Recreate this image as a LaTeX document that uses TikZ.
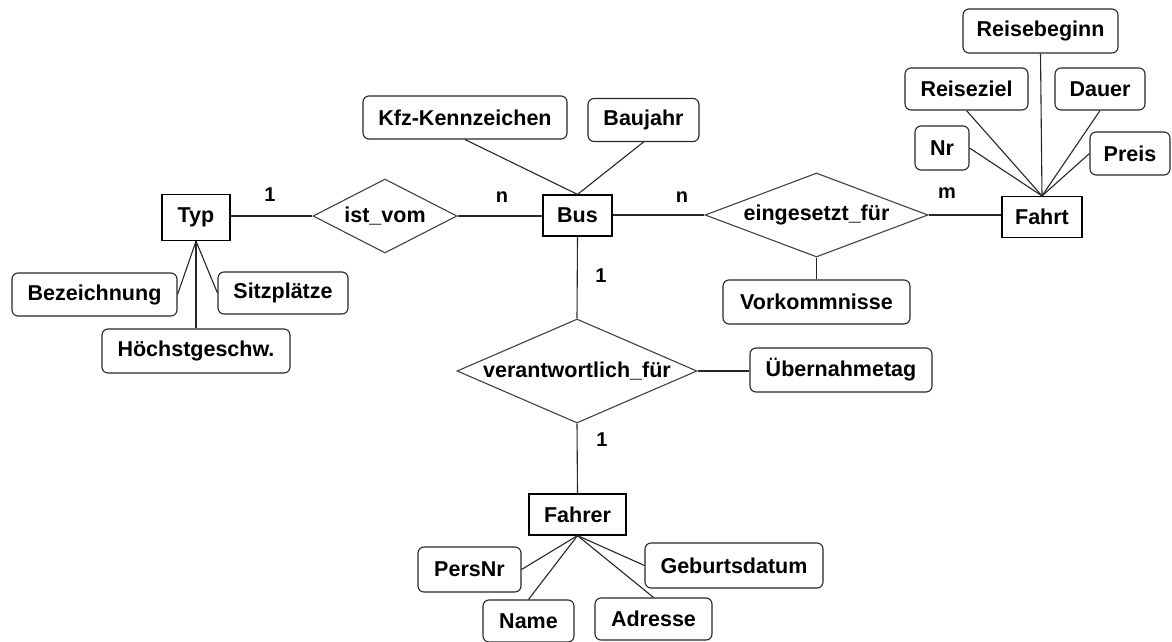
\documentclass[tikz,border=0pt]{standalone}
\usepackage{fontspec}
\setmainfont{Liberation Sans}
\usetikzlibrary{shapes.geometric}
\begin{document}
\begin{tikzpicture}[x=1pt,y=-1pt,
  every node/.style={font=\bfseries\fontsize{21.5}{24}\selectfont, inner sep=0pt},
  entity/.style={draw=black, line width=1.2pt, rectangle, minimum height=41pt},
  attr/.style={draw=black!85, line width=1.1pt, rectangle, rounded corners=6pt, minimum height=43pt},
  rel/.style={draw=black!75, line width=1.1pt, diamond, aspect=2},
  card/.style={font=\bfseries\fontsize{20}{24}\selectfont},
  conn/.style={draw=black!85, line width=1.1pt}]
\useasboundingbox (0,0) rectangle (1172,642);
% entities
\node[entity, minimum width=68pt, minimum height=46pt] (typ) at (196,217.5) {Typ};
\node[entity, minimum width=69pt] (bus) at (577.5,215.5) {Bus};
\node[entity, minimum width=80pt] (fahrt) at (1042,217) {Fahrt};
\node[entity, minimum width=97pt] (fahrer) at (577.5,514.5) {Fahrer};
% relationships
\node[rel, minimum width=144pt, minimum height=74pt] (istvom) at (385,216) {\makebox[0pt]{ist\_vom}};
\node[rel, minimum width=223pt, minimum height=84pt] (eing) at (816.5,215) {\makebox[0pt]{eingesetzt\_für}};
\node[rel, minimum width=240pt, minimum height=104pt] (verant) at (577,371) {\makebox[0pt]{verantwortlich\_für}};
% attributes
\node[attr, minimum width=165pt] (bez) at (94.5,294.5) {Bezeichnung};
\node[attr, minimum width=130pt, minimum height=42pt] (sitz) at (283,293) {Sitzplätze};
\node[attr, minimum width=188pt, minimum height=44pt] (hoech) at (196,351) {Höchstgeschw.};
\node[attr, minimum width=204pt] (kfz) at (465,117.5) {Kfz-Kennzeichen};
\node[attr, minimum width=111pt] (bauj) at (643.5,120) {Baujahr};
\node[attr, minimum width=155pt, minimum height=44pt] (rbeg) at (1040.5,31) {Reisebeginn};
\node[attr, minimum width=123pt, minimum height=42pt] (rziel) at (966.5,89) {Reiseziel};
\node[attr, minimum width=90pt, minimum height=42pt] (dauer) at (1100,89) {Dauer};
\node[attr, minimum width=54pt, minimum height=44pt] (nr) at (942,148) {Nr};
\node[attr, minimum width=80pt] (preis) at (1130,153.5) {Preis};
\node[attr, minimum width=187pt, minimum height=44pt] (vork) at (816.5,302) {Vorkommnisse};
\node[attr, minimum width=182pt, minimum height=44pt] (ueber) at (841,370) {Übernahmetag};
\node[attr, minimum width=103pt, minimum height=45pt] (pers) at (469.5,569.5) {PersNr};
\node[attr, minimum width=91pt, minimum height=42pt] (name) at (528.5,621) {Name};
\node[attr, minimum width=117pt, minimum height=42pt] (adr) at (653.5,619) {Adresse};
\node[attr, minimum width=178pt, minimum height=45pt] (geb) at (734,565.5) {Geburtsdatum};
% cardinalities
\node[card] (c1) at (270,195) {1};
\node[card] (c2) at (502,197) {n};
\node[card] (c3) at (682,197) {n};
\node[card] (c4) at (947,193) {m};
\node[card] (c5) at (601,276) {1};
\node[card] (c6) at (602,440) {1};
% connectors
\draw[conn] (typ.east |- istvom.west) -- (istvom.west);
\draw[conn] (istvom.east) -- (bus.west |- istvom.east);
\draw[conn] (bus.east |- eing.west) -- (eing.west);
\draw[conn] (eing.east) -- (fahrt.west |- eing.east);
\draw[conn] (eing.south) -- (vork.north);
\draw[conn] (bus.south) -- (verant.north);
\draw[conn] (verant.east) -- (ueber.west |- verant.east);
\draw[conn] (verant.south) -- (fahrer.north);
\draw[conn] (typ.south) -- (bez.east);
\draw[conn] (typ.south) -- (sitz.west);
\draw[conn] (typ.south) -- (hoech.north);
\draw[conn] (bus.north) -- (kfz.south);
\draw[conn] (bus.north) -- (bauj.south);
\draw[conn] (fahrt.north) -- (rbeg.south);
\draw[conn] (fahrt.north) -- (rziel.south);
\draw[conn] (fahrt.north) -- (dauer.south);
\draw[conn] (fahrt.north) -- (nr.east);
\draw[conn] (fahrt.north) -- (preis.west);
\draw[conn] (fahrer.south) -- (pers.east);
\draw[conn] (fahrer.south) -- (name.north);
\draw[conn] (fahrer.south) -- (adr.north);
\draw[conn] (fahrer.south) -- (geb.west);
\end{tikzpicture}
\end{document}
